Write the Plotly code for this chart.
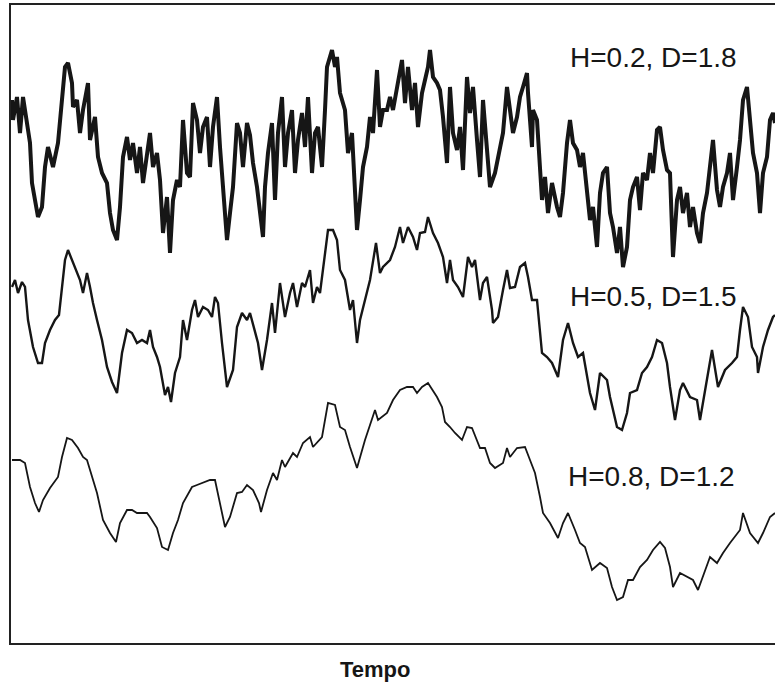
import plotly.graph_objects as go

# ---- data (t = time, v = level, arbitrary units) ----
t_h02 = [12,13,17,20,23,27,30,32,35,38,42,45,48,53,58,62,65,68,72,73,77,80,83,88,90,95,98,102,107,110,
         113,117,120,123,127,130,133,137,140,143,147,150,153,157,160,163,167,170,173,177,180,183,187,190,193,197,200,203,207,210,
         213,217,220,223,227,230,233,237,240,243,247,250,253,257,260,263,265,268,272,275,278,282,285,288,292,295,298,302,305,308,
         312,315,318,322,325,327,332,335,337,340,345,348,352,355,357,360,363,367,370,373,377,380,383,387,390,393,398,402,405,408,
         412,415,418,422,425,428,430,433,437,440,443,447,450,453,457,460,463,467,470,473,477,480,483,487,490,495,500,503,507,510,
         513,517,520,523,527,528,532,533,537,542,545,548,552,557,560,563,567,570,573,577,580,583,587,590,593,597,600,603,607,610,
         613,617,620,623,627,630,633,637,640,643,647,650,653,657,660,663,667,670,673,677,680,683,687,690,693,697,700,703,707,710,
         713,717,720,723,727,730,733,737,740,743,747,750,753,757,760,763,767,770,773,775]
v_h02 = [543,523,546,510,546,516,500,460,443,426,436,476,496,476,500,543,576,580,560,536,543,510,533,560,503,526,486,470,460,430,
         413,403,436,486,506,483,500,470,496,460,493,510,476,490,463,410,446,390,443,463,456,523,470,466,540,523,490,516,526,476,
         516,546,496,450,403,430,456,520,510,476,520,508,480,456,426,406,456,490,520,443,510,546,476,510,533,470,503,530,496,546,
         470,510,516,476,533,576,593,576,586,550,533,490,510,456,413,443,476,496,526,510,573,516,533,533,546,533,563,583,540,576,
         533,560,516,550,563,576,593,566,560,553,526,480,556,510,493,516,473,566,530,556,503,466,543,493,456,470,493,510,556,530,
         510,526,546,556,570,550,496,533,523,443,466,430,460,436,426,450,500,523,500,493,476,490,450,423,436,396,450,470,476,430,
         416,390,416,376,396,443,456,466,433,470,463,490,470,513,516,493,473,470,386,443,456,430,450,416,436,410,400,430,450,476,
         503,453,436,456,470,490,443,476,503,543,556,523,490,470,430,470,486,523,530,520]

t_h05 = [12,15,18,22,25,28,33,38,42,45,50,55,59,62,65,68,72,75,80,83,87,90,93,97,102,107,112,117,122,127,
         132,137,142,147,150,153,157,160,165,168,171,175,180,183,187,192,195,198,203,208,212,215,218,222,227,233,237,242,247,250,
         255,258,262,267,272,275,280,285,290,293,297,302,305,310,313,317,320,323,328,333,337,340,345,350,353,357,360,365,370,376,
         380,383,390,395,400,403,408,413,417,420,425,428,433,438,443,447,450,453,458,463,468,472,475,480,483,487,492,493,498,503,
         507,510,515,520,525,528,532,537,542,547,552,558,563,568,573,578,583,590,595,600,607,610,617,622,627,630,637,642,647,652,
         657,662,667,670,675,680,683,690,697,700,707,712,718,725,732,737,740,743,748,752,757,758,763,768,773,775]
v_h05 = [356,363,350,361,356,323,296,280,280,300,313,323,328,353,383,393,383,376,363,350,370,356,340,323,303,276,261,250,290,313,
         310,300,303,300,313,296,286,276,248,256,241,270,286,323,303,333,343,326,336,333,326,346,340,300,256,273,316,330,323,330,
         310,300,273,303,340,310,360,326,350,360,336,360,356,373,340,356,350,376,413,413,403,373,363,333,343,300,323,343,363,400,
         370,376,383,396,416,400,416,406,393,410,411,426,410,400,386,360,383,363,356,346,386,376,383,343,360,366,333,320,326,353,
         373,355,356,376,380,366,343,343,290,286,280,266,303,320,300,286,290,250,233,270,263,246,216,213,230,250,253,270,276,286,
         303,300,280,256,223,253,260,246,243,223,266,293,256,273,280,286,313,336,326,296,286,270,296,313,326,328]

t_h08 = [12,20,25,30,35,39,43,50,58,62,67,72,78,83,87,92,97,103,110,116,120,127,132,137,147,150,157,162,168,173,
         178,183,192,197,203,210,215,220,225,230,237,242,247,253,259,261,267,273,277,282,285,293,297,303,310,313,322,328,335,340,
         345,350,357,365,375,378,387,393,400,407,413,417,422,428,437,442,445,450,455,462,467,472,480,485,490,495,503,507,510,517,
         525,530,535,540,543,550,558,563,568,575,580,585,592,600,607,612,617,623,628,633,640,647,653,660,665,670,673,680,687,693,
         698,703,710,717,723,730,735,740,743,750,758,763,770,775]
v_h08 = [183,183,180,156,140,131,143,155,166,186,205,203,195,186,183,166,150,123,110,101,120,133,133,130,130,126,115,96,93,110,
         123,140,156,158,160,163,163,140,116,126,150,151,158,153,140,131,153,170,163,183,176,190,186,200,206,196,206,240,238,216,
         213,196,175,203,233,223,230,243,253,256,256,250,256,260,246,236,221,216,210,203,216,215,195,195,180,175,180,195,186,195,
         196,183,170,146,130,120,105,120,130,113,100,96,73,80,75,56,43,46,63,63,76,83,93,101,95,76,56,70,66,63,
         53,66,86,80,90,100,106,113,130,110,100,110,126,130]

labels = ["H=0.2, D=1.8", "H=0.5, D=1.5", "H=0.8, D=1.2"]
label_t = [653, 653, 651]
label_v = [586, 347, 167]
x_title = "Tempo"

ink = "#161616"
fig = go.Figure()
fig.add_trace(go.Scatter(x=t_h02, y=v_h02, mode="lines", line=dict(color=ink, width=4), showlegend=False))
fig.add_trace(go.Scatter(x=t_h05, y=v_h05, mode="lines", line=dict(color=ink, width=2.4), showlegend=False))
fig.add_trace(go.Scatter(x=t_h08, y=v_h08, mode="lines", line=dict(color=ink, width=1.8), showlegend=False))

for txt, tx, vy in zip(labels, label_t, label_v):
    fig.add_annotation(x=tx, y=vy, xref="x", yref="y", text=txt, showarrow=False,
                       font=dict(family="Liberation Sans", size=28, color=ink))

fig.add_annotation(x=375, y=-0.0423, xref="x", yref="paper", text="<b>" + x_title + "</b>",
                   showarrow=False, yanchor="middle",
                   font=dict(family="Liberation Sans", size=22, color=ink))

fig.update_layout(
    width=775, height=688,
    margin=dict(l=11, r=0, t=5, b=45),
    paper_bgcolor="white", plot_bgcolor="white",
    hovermode=False,
    xaxis=dict(range=[11, 775], showgrid=False, zeroline=False, showticklabels=False, ticks="",
               showline=True, mirror=True, linecolor="#222", linewidth=2),
    yaxis=dict(range=[0, 638], showgrid=False, zeroline=False, showticklabels=False, ticks="",
               showline=True, mirror=False, linecolor="#222", linewidth=2),
)
fig.write_html("out.html", config={"displayModeBar": False},
               post_script="document.body.style.margin='0';document.body.style.overflow='hidden';")
